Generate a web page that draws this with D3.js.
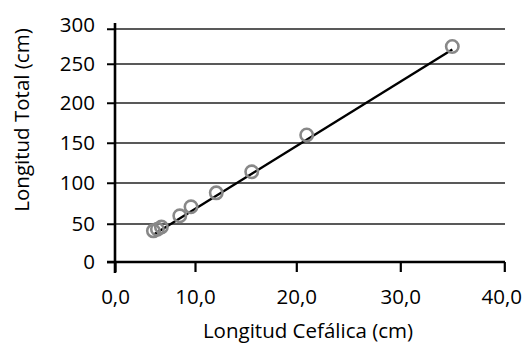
<!DOCTYPE html>
<html><head><meta charset="utf-8">
<script src="https://cdn.jsdelivr.net/npm/d3@7"></script>
<style>body{margin:0;background:#fff}svg{display:block}text{font-family:"Open Sans",sans-serif;fill:#000}</style>
</head><body><svg id="c" width="523" height="343"></svg>
<script>
const cephalic = [4.8, 5.3, 5.8, 8.1, 9.5, 12.1, 15.6, 21.0, 35.0];
const totalLen = [41, 43, 46, 60, 71, 88, 114, 160, 275];
const xTicks = [0, 10, 20, 30, 40];
const yTicks = [0, 50, 100, 150, 200, 250, 300];
const xTitle = "Longitud Cefálica (cm)";
const yTitle = "Longitud Total (cm)";

const svg = d3.select("#c");
const x = d3.scaleLinear().domain(xTicks).range([115, 195, 296.3, 400.3, 504.3]);
const y = d3.scaleLinear().domain(yTicks).range([262, 224, 183, 143, 103, 64, 29]);

// gridlines
svg.append("g").selectAll("line").data(yTicks.slice(1)).join("line")
  .attr("x1", 107).attr("x2", 505)
  .attr("y1", d => y(d)).attr("y2", d => y(d))
  .attr("stroke", "#222").attr("stroke-width", 1.5);

// y axis
const ya = svg.append("g").attr("transform", "translate(115,0)")
  .call(d3.axisLeft(y).tickValues(yTicks).tickSize(8).tickPadding(12).tickFormat(d3.format("d")));
ya.select(".domain").remove();
ya.selectAll(".tick line").attr("stroke", "#000").attr("stroke-width", 1.5);
ya.selectAll(".tick text").style("font-size", "20.5px").attr("dy", "0.3em");
ya.selectAll(".tick").filter(d => d === 300).select("text").attr("dy", "0.1em");
svg.append("line").attr("x1", 115).attr("x2", 115).attr("y1", 23).attr("y2", 273)
  .attr("stroke", "#000").attr("stroke-width", 2.6);

// x axis
const xa = svg.append("g").attr("transform", "translate(0,262)")
  .call(d3.axisBottom(x).tickValues(xTicks).tickSize(10).tickPadding(17)
    .tickFormat(d => d3.format(".1f")(d).replace(".", ",")));
xa.select(".domain").remove();
xa.selectAll(".tick line").attr("stroke", "#000").attr("stroke-width", 2.2);
xa.selectAll(".tick text").style("font-size", "20.5px");
xa.selectAll(".tick").filter(d => d === 40).select("text").attr("dx", "-3px");
svg.append("line").attr("x1", 107).attr("x2", 505).attr("y1", 262).attr("y2", 262)
  .attr("stroke", "#000").attr("stroke-width", 2.6);

// regression line
const n = cephalic.length;
const mx = d3.mean(cephalic), my = d3.mean(totalLen);
let sxy = 0, sxx = 0;
for (let i = 0; i < n; i++) { sxy += (cephalic[i]-mx)*(totalLen[i]-my); sxx += (cephalic[i]-mx)**2; }
const b = sxy/sxx, a = my - b*mx;
const x0 = d3.min(cephalic), x1 = d3.max(cephalic);
svg.append("line").attr("x1", x(x0)).attr("y1", y(a+b*x0)).attr("x2", x(x1)).attr("y2", y(a+b*x1))
  .attr("stroke", "#000").attr("stroke-width", 2.4);

// points
svg.append("g").selectAll("circle").data(cephalic).join("circle")
  .attr("cx", d => x(d)).attr("cy", (d,i) => y(totalLen[i])).attr("r", 6.2)
  .attr("fill", "none").attr("stroke", "#888").attr("stroke-width", 2.6);

// titles
svg.append("text").attr("x", 308).attr("y", 338).attr("text-anchor", "middle")
  .style("font-size", "20.5px").text(xTitle);
svg.append("text").attr("transform", "translate(29,120) rotate(-90)").attr("text-anchor", "middle")
  .style("font-size", "20.5px").text(yTitle);
</script></body></html>
